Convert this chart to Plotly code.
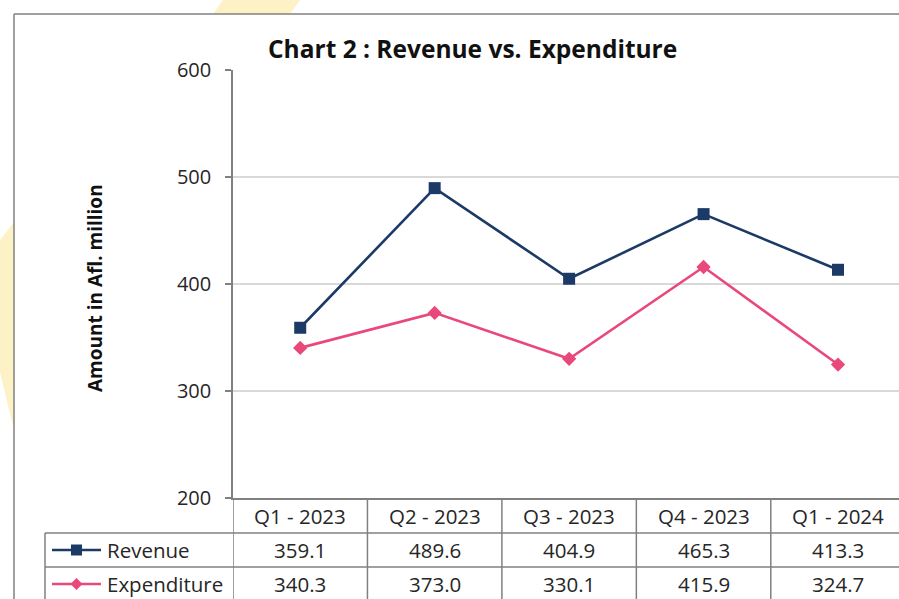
import plotly.graph_objects as go

categories = ["Q1 - 2023", "Q2 - 2023", "Q3 - 2023", "Q4 - 2023", "Q1 - 2024"]
revenue = [359.1, 489.6, 404.9, 465.3, 413.3]
expenditure = [340.3, 373.0, 330.1, 415.9, 324.7]
series_names = ["Revenue", "Expenditure"]
y_ticks = [200, 300, 400, 500, 600]

NAVY = "#1B3A66"
PINK = "#E9497A"
GRID = "#D9D9D9"
LINE = "#808080"
TXT = "#262626"
FONT = "Open Sans"

W, H = 899, 599
L, R, T, B = 233, 0, 70, 101
PW, PH = W - L - R, H - T - B


def px(x):
    return (x - L) / PW


def py(y):
    return (H - B - y) / PH


xs = list(range(len(categories)))

fig = go.Figure()
fig.add_trace(go.Scatter(x=xs, y=revenue, mode="lines+markers", name=series_names[0],
                         line=dict(color=NAVY, width=2.6),
                         marker=dict(symbol="square", size=12, color=NAVY)))
fig.add_trace(go.Scatter(x=xs, y=expenditure, mode="lines+markers", name=series_names[1],
                         line=dict(color=PINK, width=2.6),
                         marker=dict(symbol="diamond", size=11, color=PINK)))

shapes = []
annotations = []

# watermark shapes
shapes.append(dict(type="path", xref="paper", yref="paper", layer="below",
                   path=f"M {px(213)},{py(14)} L {px(223)},{py(0)} L {px(300)},{py(0)} L {px(290)},{py(14)} Z",
                   fillcolor="#FDF1C6", line=dict(width=0)))
shapes.append(dict(type="path", xref="paper", yref="paper", layer="below",
                   path=f"M {px(0)},{py(240)} L {px(14)},{py(222)} L {px(14)},{py(430)} L {px(0)},{py(372)} Z",
                   fillcolor="#FDF1C6", line=dict(width=0)))

# outer border
shapes.append(dict(type="line", xref="paper", yref="paper", x0=px(14), x1=px(14), y0=py(14), y1=py(610),
                   line=dict(color=LINE, width=1.5)))
shapes.append(dict(type="line", xref="paper", yref="paper", x0=px(14), x1=px(910), y0=py(14), y1=py(14),
                   line=dict(color=LINE, width=1.5)))

# data table grid
row_bot = 610
for i in range(len(categories) + 1):
    shapes.append(dict(type="line", xref="x", yref="paper", x0=i - 0.5, x1=i - 0.5,
                       y0=py(498), y1=py(row_bot), line=dict(color=LINE, width=1.5)))
shapes.append(dict(type="line", xref="paper", yref="paper", x0=px(45), x1=px(45),
                   y0=py(533), y1=py(row_bot), line=dict(color=LINE, width=1.5)))
for yy in [533, 567]:
    shapes.append(dict(type="line", xref="paper", yref="paper", x0=px(45), x1=px(910),
                       y0=py(yy), y1=py(yy), line=dict(color=LINE, width=1.5)))

TF = dict(family=FONT, size=20.5, color=TXT)
# header row
for i, c in enumerate(categories):
    annotations.append(dict(x=i, xref="x", y=py(516), yref="paper", text=c, showarrow=False,
                            font=TF, xanchor="center", yanchor="middle"))
# value rows
for vals, yc in [(revenue, 550), (expenditure, 584)]:
    for i, v in enumerate(vals):
        annotations.append(dict(x=i, xref="x", y=py(yc), yref="paper", text=f"{v:.1f}", showarrow=False,
                                font=TF, xanchor="center", yanchor="middle"))

# legend keys inside table
for name, col, yc, sym in [(series_names[0], NAVY, 550, "sq"), (series_names[1], PINK, 584, "dm")]:
    shapes.append(dict(type="line", xref="paper", yref="paper", x0=px(52), x1=px(101),
                       y0=py(yc), y1=py(yc), line=dict(color=col, width=2.6)))
    if sym == "sq":
        shapes.append(dict(type="rect", xref="paper", yref="paper", x0=px(71), x1=px(82),
                           y0=py(yc - 5.5), y1=py(yc + 5.5), fillcolor=col, line=dict(width=0)))
    else:
        shapes.append(dict(type="path", xref="paper", yref="paper",
                           path=f"M {px(76.5)},{py(yc-6)} L {px(82.5)},{py(yc)} L {px(76.5)},{py(yc+6)} L {px(70.5)},{py(yc)} Z",
                           fillcolor=col, line=dict(width=0)))
    annotations.append(dict(x=px(105), xref="paper", y=py(yc), yref="paper", text=name, showarrow=False,
                            font=TF, xanchor="left", yanchor="middle"))

# title
annotations.append(dict(x=px(472), xref="paper", y=py(48), yref="paper",
                        text="<b>Chart 2 : Revenue vs. Expenditure</b>", showarrow=False,
                        font=dict(family=FONT, size=24.5, color="#111111"),
                        xanchor="center", yanchor="middle"))
# y-axis title
annotations.append(dict(x=px(95), xref="paper", y=py(288), yref="paper",
                        text="<b>Amount in Afl. million</b>", showarrow=False, textangle=-90,
                        font=dict(family=FONT, size=19, color="#111111"),
                        xanchor="center", yanchor="middle"))

fig.update_layout(
    width=W, height=H,
    margin=dict(l=L, r=R, t=T, b=B, pad=0),
    paper_bgcolor="white", plot_bgcolor="white",
    showlegend=False,
    shapes=shapes, annotations=annotations,
    xaxis=dict(range=[-0.5, (899 - 300) / 134.5], showgrid=False, zeroline=False,
               showticklabels=False, ticks="", showline=True, linecolor=LINE, linewidth=1.5),
    yaxis=dict(range=[200, 600], tickvals=y_ticks, ticktext=[str(t) for t in y_ticks],
               showgrid=True, gridcolor=GRID, gridwidth=1.5, zeroline=False,
               showline=True, linecolor=LINE, linewidth=1.5,
               ticks="outside", ticklen=6, tickcolor=LINE, tickwidth=1.5,
               tickfont=dict(family=FONT, size=20, color=TXT), ticklabelstandoff=10),
)

fig.write_html("out.html", config={"displayModeBar": False},
               post_script="document.body.style.margin='0';document.body.style.overflow='hidden';")
